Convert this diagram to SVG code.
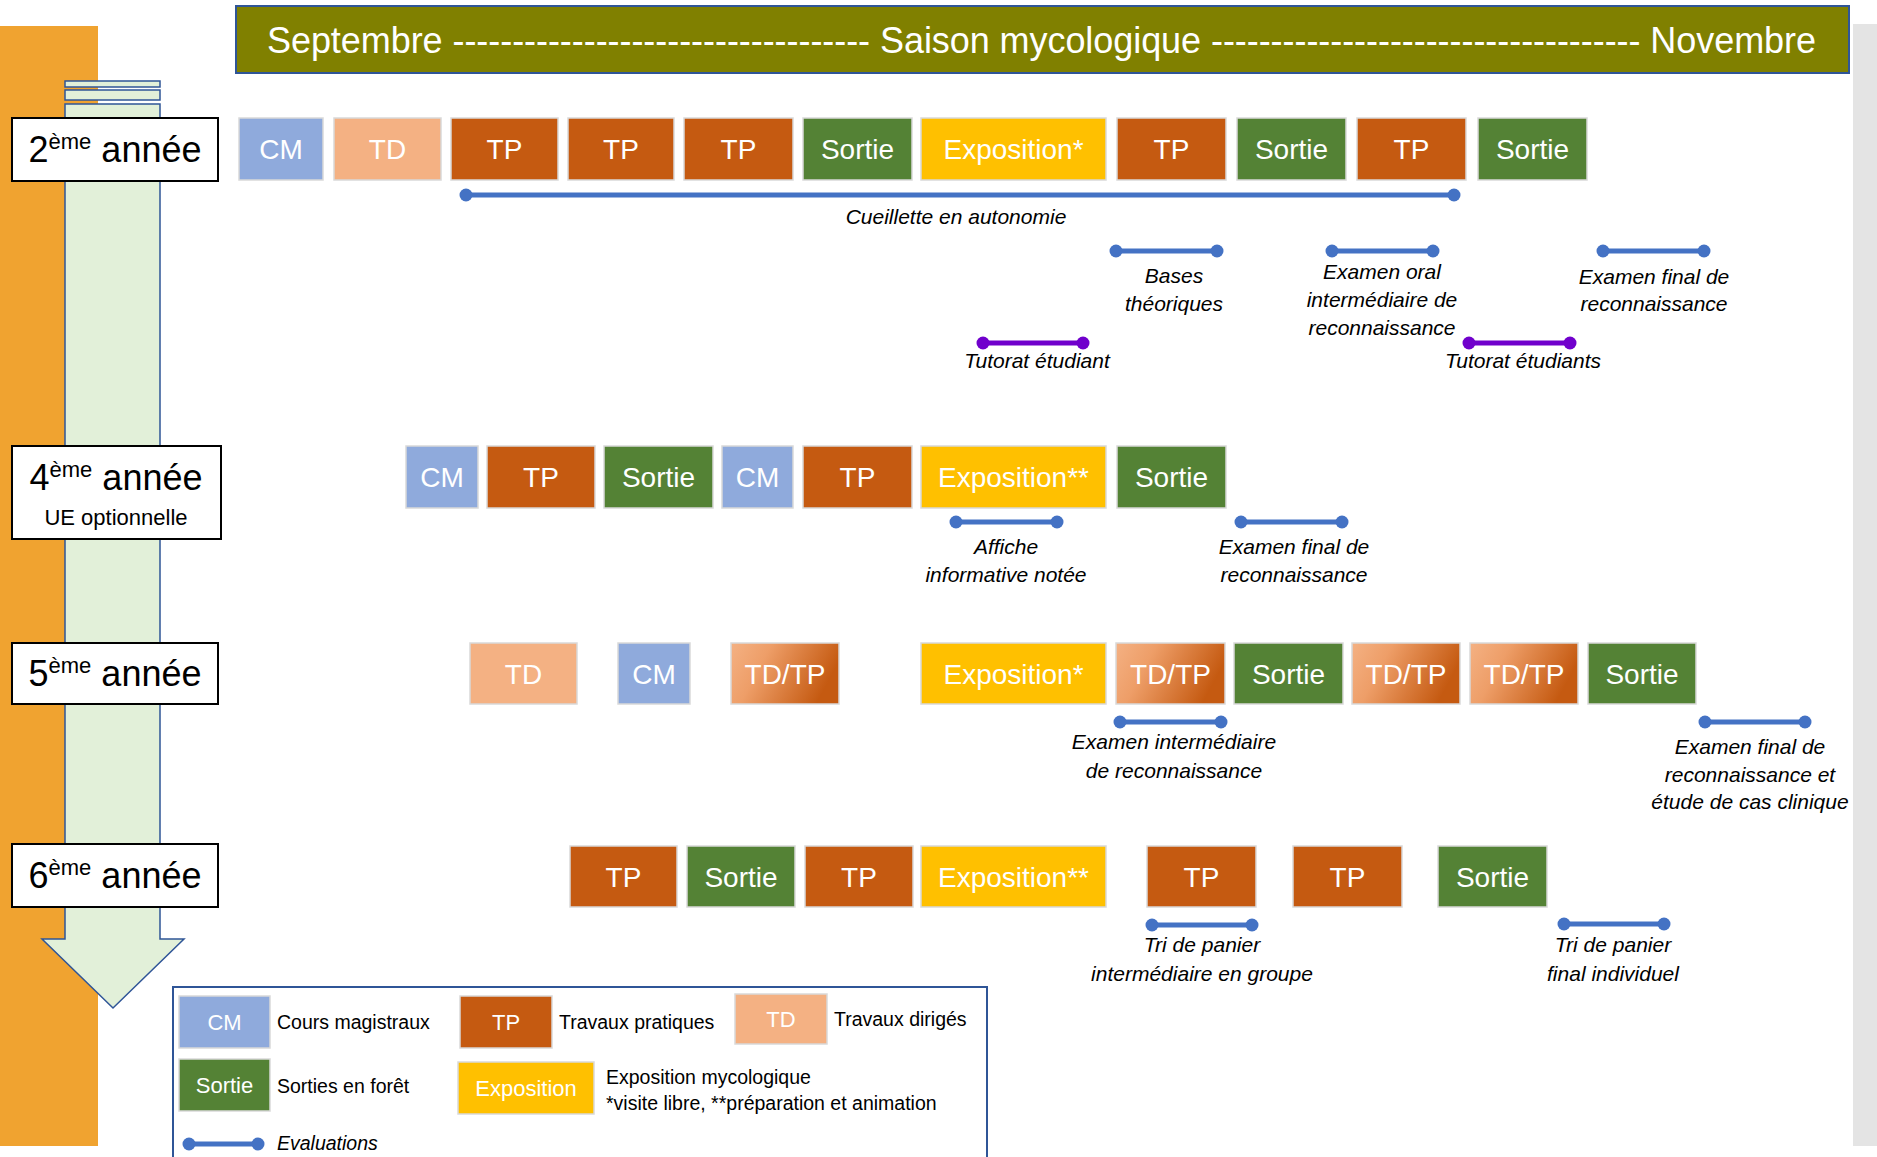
<svg xmlns="http://www.w3.org/2000/svg" width="1877" height="1157" viewBox="0 0 1877 1157">
<defs>
<linearGradient id="tdtp" x1="0" y1="0" x2="1" y2="0.3">
<stop offset="0" stop-color="#F4B183"/>
<stop offset="0.35" stop-color="#EE9E68"/>
<stop offset="1" stop-color="#C55A11"/>
</linearGradient>
<marker id="dotB" markerUnits="userSpaceOnUse" markerWidth="16" markerHeight="16" refX="8" refY="8" viewBox="0 0 16 16"><circle cx="8" cy="8" r="6.5" fill="#4472C4"/></marker>
<marker id="dotP" markerUnits="userSpaceOnUse" markerWidth="16" markerHeight="16" refX="8" refY="8" viewBox="0 0 16 16"><circle cx="8" cy="8" r="6.5" fill="#7000CC"/></marker>
</defs>
<style>
text{font-family:"Liberation Sans",Arial,sans-serif}
.box{stroke:#D9D9D9;stroke-width:1.5}
.cm{fill:#8FAADC}.td{fill:#F4B183}.tp{fill:#C55A11}.so{fill:#548235}.ex{fill:#FFC000}.tt{fill:url(#tdtp)}
.bl{fill:#fff;font-size:28px;text-anchor:middle}
.lbl{fill:#fff;font-size:22px;text-anchor:middle}
.yr{fill:#fff;stroke:#000;stroke-width:2}
.yt{font-size:36px;text-anchor:middle;fill:#000}
.sup{font-size:22px}
.ev{stroke:#4472C4;stroke-width:5;fill:none;marker-start:url(#dotB);marker-end:url(#dotB)}
.pv{stroke:#7000CC;stroke-width:5;fill:none;marker-start:url(#dotP);marker-end:url(#dotP)}
.et{font-size:21px;font-style:italic;text-anchor:middle;fill:#000}
.lg{font-size:19.5px;fill:#000}
</style>
<rect x="0" y="0" width="1877" height="1157" fill="#fff"/>
<!-- right gray panel -->
<rect x="1853" y="24" width="24" height="1122" fill="#E4E4E4"/>
<!-- orange bar -->
<rect x="0" y="26" width="98" height="1120" fill="#F0A330"/>
<!-- timeline arrow -->
<g id="timeline-arrow" fill="#E2F0D9" stroke="#2F5597" stroke-width="1.5">
<rect x="65" y="81" width="95" height="6"/>
<rect x="65" y="90" width="95" height="10"/>
<path d="M65,104 L160,104 L160,939 L184,939 L113,1008 L42,939 L65,939 Z"/>
</g>
<!-- header -->
<g id="header">
<rect x="236" y="6" width="1613" height="67" fill="#808000" stroke="#2F5597" stroke-width="2"/>
<text x="267" y="53" font-size="36" fill="#fff" textLength="1549" lengthAdjust="spacing">Septembre ----------------------------------- Saison mycologique ------------------------------------ Novembre</text>
</g>
<!-- year labels -->
<g id="year2"><rect class="yr" x="12" y="118" width="206" height="63"/><text class="yt" x="115" y="162">2<tspan class="sup" dy="-13">ème</tspan><tspan dy="13"> année</tspan></text></g>
<g id="year4"><rect class="yr" x="12" y="446" width="209" height="93"/><text class="yt" x="116" y="490">4<tspan class="sup" dy="-13">ème</tspan><tspan dy="13"> année</tspan></text><text x="116" y="525" font-size="22" text-anchor="middle">UE optionnelle</text></g>
<g id="year5"><rect class="yr" x="12" y="643" width="206" height="61"/><text class="yt" x="115" y="686">5<tspan class="sup" dy="-13">ème</tspan><tspan dy="13"> année</tspan></text></g>
<g id="year6"><rect class="yr" x="12" y="844" width="206" height="63"/><text class="yt" x="115" y="888">6<tspan class="sup" dy="-13">ème</tspan><tspan dy="13"> année</tspan></text></g>
<!-- row 1 -->
<g id="r1-cm"><rect class="box cm" x="239" y="118" width="84" height="62"/><text class="bl" x="281" y="159">CM</text></g>
<g id="r1-td"><rect class="box td" x="334" y="118" width="107" height="62"/><text class="bl" x="387.5" y="159">TD</text></g>
<g id="r1-tp1"><rect class="box tp" x="451" y="118" width="107" height="62"/><text class="bl" x="504.5" y="159">TP</text></g>
<g id="r1-tp2"><rect class="box tp" x="568" y="118" width="106" height="62"/><text class="bl" x="621" y="159">TP</text></g>
<g id="r1-tp3"><rect class="box tp" x="684" y="118" width="109" height="62"/><text class="bl" x="738.5" y="159">TP</text></g>
<g id="r1-so1"><rect class="box so" x="803" y="118" width="109" height="62"/><text class="bl" x="857.5" y="159">Sortie</text></g>
<g id="r1-ex"><rect class="box ex" x="921" y="118" width="185" height="62"/><text class="bl" x="1013.5" y="159">Exposition*</text></g>
<g id="r1-tp4"><rect class="box tp" x="1117" y="118" width="109" height="62"/><text class="bl" x="1171.5" y="159">TP</text></g>
<g id="r1-so2"><rect class="box so" x="1237" y="118" width="109" height="62"/><text class="bl" x="1291.5" y="159">Sortie</text></g>
<g id="r1-tp5"><rect class="box tp" x="1357" y="118" width="109" height="62"/><text class="bl" x="1411.5" y="159">TP</text></g>
<g id="r1-so3"><rect class="box so" x="1478" y="118" width="109" height="62"/><text class="bl" x="1532.5" y="159">Sortie</text></g>
<!-- row 2 -->
<g id="r2-cm1"><rect class="box cm" x="406" y="446" width="72" height="62"/><text class="bl" x="442" y="487">CM</text></g>
<g id="r2-tp1"><rect class="box tp" x="487" y="446" width="108" height="62"/><text class="bl" x="541" y="487">TP</text></g>
<g id="r2-so1"><rect class="box so" x="604" y="446" width="109" height="62"/><text class="bl" x="658.5" y="487">Sortie</text></g>
<g id="r2-cm2"><rect class="box cm" x="722" y="446" width="71" height="62"/><text class="bl" x="757.5" y="487">CM</text></g>
<g id="r2-tp2"><rect class="box tp" x="803" y="446" width="109" height="62"/><text class="bl" x="857.5" y="487">TP</text></g>
<g id="r2-ex"><rect class="box ex" x="921" y="446" width="185" height="62"/><text class="bl" x="1013.5" y="487">Exposition**</text></g>
<g id="r2-so2"><rect class="box so" x="1117" y="446" width="109" height="62"/><text class="bl" x="1171.5" y="487">Sortie</text></g>
<!-- row 3 -->
<g id="r3-td"><rect class="box td" x="470" y="643" width="107" height="61"/><text class="bl" x="523.5" y="684">TD</text></g>
<g id="r3-cm"><rect class="box cm" x="618" y="643" width="72" height="61"/><text class="bl" x="654" y="684">CM</text></g>
<g id="r3-tt1"><rect class="box tt" x="731" y="643" width="108" height="61"/><text class="bl" x="785" y="684">TD/TP</text></g>
<g id="r3-ex"><rect class="box ex" x="921" y="643" width="185" height="61"/><text class="bl" x="1013.5" y="684">Exposition*</text></g>
<g id="r3-tt2"><rect class="box tt" x="1116" y="643" width="109" height="61"/><text class="bl" x="1170.5" y="684">TD/TP</text></g>
<g id="r3-so1"><rect class="box so" x="1234" y="643" width="109" height="61"/><text class="bl" x="1288.5" y="684">Sortie</text></g>
<g id="r3-tt3"><rect class="box tt" x="1352" y="643" width="108" height="61"/><text class="bl" x="1406" y="684">TD/TP</text></g>
<g id="r3-tt4"><rect class="box tt" x="1470" y="643" width="108" height="61"/><text class="bl" x="1524" y="684">TD/TP</text></g>
<g id="r3-so2"><rect class="box so" x="1588" y="643" width="108" height="61"/><text class="bl" x="1642" y="684">Sortie</text></g>
<!-- row 4 -->
<g id="r4-tp1"><rect class="box tp" x="570" y="846" width="107" height="61"/><text class="bl" x="623.5" y="887">TP</text></g>
<g id="r4-so1"><rect class="box so" x="687" y="846" width="108" height="61"/><text class="bl" x="741" y="887">Sortie</text></g>
<g id="r4-tp2"><rect class="box tp" x="805" y="846" width="108" height="61"/><text class="bl" x="859" y="887">TP</text></g>
<g id="r4-ex"><rect class="box ex" x="921" y="846" width="185" height="61"/><text class="bl" x="1013.5" y="887">Exposition**</text></g>
<g id="r4-tp3"><rect class="box tp" x="1147" y="846" width="109" height="61"/><text class="bl" x="1201.5" y="887">TP</text></g>
<g id="r4-tp4"><rect class="box tp" x="1293" y="846" width="109" height="61"/><text class="bl" x="1347.5" y="887">TP</text></g>
<g id="r4-so2"><rect class="box so" x="1438" y="846" width="109" height="61"/><text class="bl" x="1492.5" y="887">Sortie</text></g>
<!-- evaluation connectors -->
<g id="connectors">
<line class="ev" x1="466" y1="195" x2="1454" y2="195"/>
<line class="ev" x1="1116" y1="251" x2="1217" y2="251"/>
<line class="ev" x1="1332" y1="251" x2="1433" y2="251"/>
<line class="ev" x1="1603" y1="251" x2="1704" y2="251"/>
<line class="pv" x1="983" y1="343" x2="1083" y2="343"/>
<line class="pv" x1="1469" y1="343" x2="1570" y2="343"/>
<line class="ev" x1="956" y1="522" x2="1057" y2="522"/>
<line class="ev" x1="1241" y1="522" x2="1342" y2="522"/>
<line class="ev" x1="1120" y1="722" x2="1221" y2="722"/>
<line class="ev" x1="1705" y1="722" x2="1805" y2="722"/>
<line class="ev" x1="1152" y1="925" x2="1252" y2="925"/>
<line class="ev" x1="1564" y1="924" x2="1664" y2="924"/>
</g>
<!-- evaluation labels -->
<g id="eval-labels">
<text class="et" x="956" y="224">Cueillette en autonomie</text>
<text class="et" x="1174" y="283">Bases</text><text class="et" x="1174" y="311">théoriques</text>
<text class="et" x="1382" y="279">Examen oral</text><text class="et" x="1382" y="307">intermédiaire de</text><text class="et" x="1382" y="335">reconnaissance</text>
<text class="et" x="1654" y="284">Examen final de</text><text class="et" x="1654" y="311">reconnaissance</text>
<text class="et" x="1037" y="368">Tutorat étudiant</text>
<text class="et" x="1523" y="368">Tutorat étudiants</text>
<text class="et" x="1006" y="554">Affiche</text><text class="et" x="1006" y="582">informative notée</text>
<text class="et" x="1294" y="554">Examen final de</text><text class="et" x="1294" y="582">reconnaissance</text>
<text class="et" x="1174" y="749">Examen intermédiaire</text><text class="et" x="1174" y="778">de reconnaissance</text>
<text class="et" x="1750" y="754">Examen final de</text><text class="et" x="1750" y="782">reconnaissance et</text><text class="et" x="1750" y="809">étude de cas clinique</text>
<text class="et" x="1202" y="952">Tri de panier</text><text class="et" x="1202" y="981">intermédiaire en groupe</text>
<text class="et" x="1613" y="952">Tri de panier</text><text class="et" x="1613" y="981">final individuel</text>
</g>
<!-- legend -->
<g id="legend">
<rect x="173" y="987" width="814" height="190" fill="#fff" stroke="#2F5597" stroke-width="2"/>
<g id="lg-cm"><rect class="box cm" x="179" y="996" width="91" height="52"/><text class="lbl" x="224.5" y="1030">CM</text><text class="lg" x="277" y="1029">Cours magistraux</text></g>
<g id="lg-tp"><rect class="box tp" x="460" y="996" width="92" height="52"/><text class="lbl" x="506" y="1030">TP</text><text class="lg" x="559" y="1029">Travaux pratiques</text></g>
<g id="lg-td"><rect class="box td" x="735" y="994" width="92" height="50"/><text class="lbl" x="781" y="1027">TD</text><text class="lg" x="834" y="1026">Travaux dirigés</text></g>
<g id="lg-so"><rect class="box so" x="179" y="1059" width="91" height="52"/><text class="lbl" x="224.5" y="1093">Sortie</text><text class="lg" x="277" y="1093">Sorties en forêt</text></g>
<g id="lg-ex"><rect class="box ex" x="458" y="1062" width="136" height="52"/><text class="lbl" x="526" y="1096">Exposition</text><text class="lg" x="606" y="1084">Exposition mycologique</text><text class="lg" x="606" y="1110">*visite libre, **préparation et animation</text></g>
<g id="lg-ev"><line class="ev" x1="189" y1="1144" x2="258" y2="1144"/><text class="lg" x="277" y="1150" font-style="italic">Evaluations</text></g>
</g>
</svg>
